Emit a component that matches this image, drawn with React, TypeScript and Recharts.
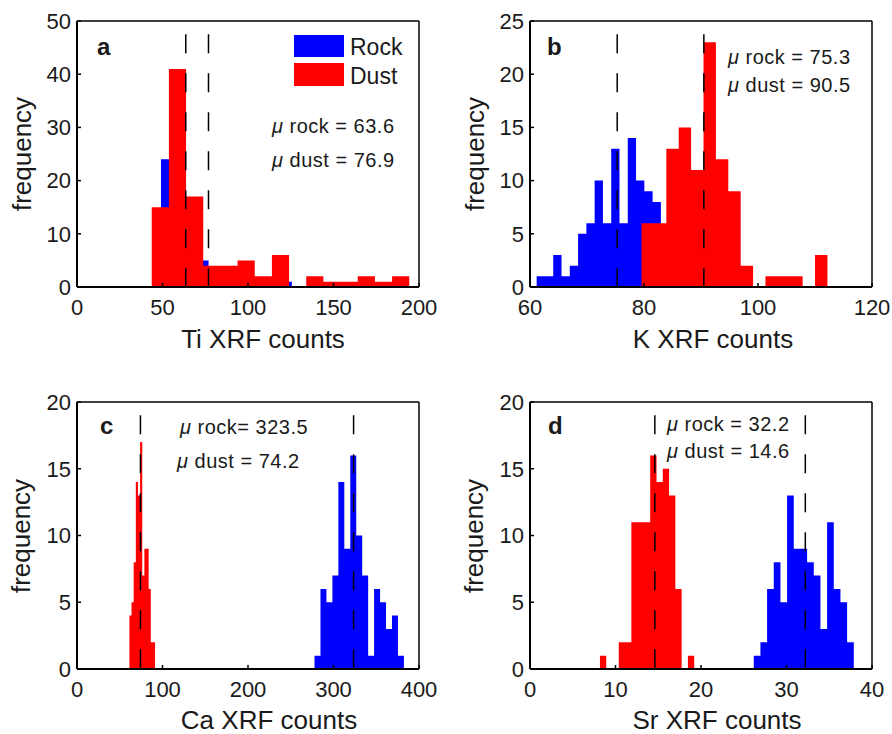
import { ComposedChart, Area, XAxis, YAxis, ReferenceLine } from 'recharts'

const FONT = '"Liberation Sans", Arial, Helvetica, sans-serif'
const BLUE = '#0000ff'
const RED = '#ff0000'
const INK = '#1a1a1a'

// a: Ti
const tiRockStart = 49.1
const tiRockWidth = 6.96
const tiRockCounts = [24, 30, 12, 5, 3, 2, 2, 1, 1, 0, 1]
const tiDustStart = 43.7
const tiDustWidth = 10.04
const tiDustCounts = [15, 41, 17, 4, 4, 5, 2, 6, 0, 2, 1, 1, 2, 1, 2]
const tiRockMean = 63.6
const tiDustMean = 76.9
const tiXTicks = [0, 50, 100, 150, 200]
const tiYTicks = [0, 10, 20, 30, 40, 50]

// b: K
const kRockStart = 61.17
const kRockWidth = 1.453
const kRockCounts = [1, 1, 3, 1, 2, 5, 6, 10, 6, 13, 6, 14, 10, 9, 8]
const kDustStart = 79.57
const kDustWidth = 2.174
const kDustCounts = [6, 6, 13, 15, 11, 23, 12, 9, 2, 0, 1, 1, 1, 0, 3]
const kRockMean = 75.3
const kDustMean = 90.5
const kXTicks = [60, 80, 100, 120]
const kYTicks = [0, 5, 10, 15, 20, 25]

// c: Ca
const caRockStart = 277.8
const caRockWidth = 6.97
const caRockCounts = [1, 6, 5, 7, 14, 9, 16, 10, 7, 1, 6, 5, 3, 4, 1]
const caDustStart = 61.3
const caDustWidth = 2.5
const caDustCounts = [4, 5, 8, 14, 13, 17, 7, 9, 9, 6, 2, 2]
const caRockMean = 323.5
const caDustMean = 74.2
const caXTicks = [0, 100, 200, 300, 400]
const caYTicks = [0, 5, 10, 15, 20]

// d: Sr
const srRockStart = 26.17
const srRockWidth = 0.78
const srRockCounts = [1, 2, 6, 8, 5, 13, 9, 9, 8, 7, 3, 11, 6, 5, 2]
const srDustStart = 8.18
const srDustWidth = 0.735
const srDustCounts = [1, 0, 0, 2, 2, 11, 11, 11, 16, 14, 15, 13, 6, 0, 1]
const srRockMean = 32.2
const srDustMean = 14.6
const srXTicks = [0, 10, 20, 30, 40]
const srYTicks = [0, 5, 10, 15, 20]

function countAt(start: number, width: number, counts: number[], x: number) {
  const i = Math.floor((x - start) / width + 1e-6)
  return i >= 0 && i < counts.length ? counts[i] : 0
}

function edgesOf(start: number, width: number, counts: number[]) {
  return [...counts.map((_, i) => start + i * width), start + counts.length * width]
}

// one row per bin edge of either histogram, drawn as stepAfter areas
function histRows(
  rStart: number, rWidth: number, rCounts: number[],
  dStart: number, dWidth: number, dCounts: number[],
) {
  const xs = [...edgesOf(rStart, rWidth, rCounts), ...edgesOf(dStart, dWidth, dCounts)].sort((a, b) => a - b)
  const uniq = xs.filter((x, i) => i === 0 || x - xs[i - 1] > 1e-9)
  return uniq.map((x) => ({
    x,
    rock: countAt(rStart, rWidth, rCounts, x),
    dust: countAt(dStart, dWidth, dCounts, x),
  }))
}

interface PanelProps {
  left: number
  top: number
  margin: { top: number; right: number; bottom: number; left: number }
  rows: { x: number; rock: number; dust: number }[]
  xTicks: number[]
  yTicks: number[]
  rockMean: number
  dustMean: number
}

function Panel({ left, top, margin, rows, xTicks, yTicks, rockMean, dustMean }: PanelProps) {
  const xDomain = [xTicks[0], xTicks[xTicks.length - 1]]
  const yDomain = [yTicks[0], yTicks[yTicks.length - 1]]
  const lineTop = yDomain[1] * 0.95
  const dash = { stroke: '#000', strokeWidth: 1.5, strokeDasharray: '19 20' }
  return (
    <div style={{ position: 'absolute', left, top }}>
      <ComposedChart width={446} height={367} data={rows} margin={margin} style={{ fontFamily: FONT }}>
        <XAxis
          dataKey="x"
          type="number"
          domain={xDomain}
          ticks={xTicks}
          interval={0}
          allowDataOverflow
          height={61}
          tickSize={-4}
          tickMargin={16}
          axisLine={{ stroke: '#000', strokeWidth: 2 }}
          tickLine={{ stroke: '#000', strokeWidth: 1.5 }}
          tick={{ fontSize: 22, fill: INK, fontFamily: FONT }}
        />
        <XAxis
          xAxisId="top"
          orientation="top"
          dataKey="x"
          type="number"
          domain={xDomain}
          ticks={xTicks}
          interval={0}
          allowDataOverflow
          height={1}
          tickSize={-4}
          tick={false}
          axisLine={{ stroke: '#000', strokeWidth: 1.5 }}
          tickLine={{ stroke: '#000', strokeWidth: 1.5 }}
        />
        <YAxis
          type="number"
          domain={yDomain}
          ticks={yTicks}
          interval={0}
          allowDataOverflow
          width={60}
          tickSize={-4}
          tickMargin={10}
          axisLine={{ stroke: '#000', strokeWidth: 2 }}
          tickLine={{ stroke: '#000', strokeWidth: 1.5 }}
          tick={{ fontSize: 22, fill: INK, fontFamily: FONT }}
        />
        <YAxis
          yAxisId="right"
          orientation="right"
          type="number"
          domain={yDomain}
          ticks={yTicks}
          interval={0}
          allowDataOverflow
          width={1}
          tickSize={-4}
          tick={false}
          axisLine={{ stroke: '#000', strokeWidth: 1.5 }}
          tickLine={{ stroke: '#000', strokeWidth: 1.5 }}
        />
        <Area
          type="stepAfter"
          dataKey="rock"
          fill={BLUE}
          fillOpacity={1}
          stroke="none"
          baseValue={0}
          dot={false}
          activeDot={false}
          isAnimationActive={false}
        />
        <Area
          type="stepAfter"
          dataKey="dust"
          fill={RED}
          fillOpacity={1}
          stroke="none"
          baseValue={0}
          dot={false}
          activeDot={false}
          isAnimationActive={false}
        />
        <ReferenceLine segment={[{ x: rockMean, y: lineTop }, { x: rockMean, y: 0 }]} {...dash} />
        <ReferenceLine segment={[{ x: dustMean, y: lineTop }, { x: dustMean, y: 0 }]} {...dash} />
      </ComposedChart>
    </div>
  )
}

function Mu({ x, y, label, value }: { x: number; y: number; label: string; value: string }) {
  return (
    <text x={x} y={y} fontSize={20} letterSpacing={0.5}>
      <tspan fontStyle="italic">μ</tspan> {label}{value}
    </text>
  )
}

export default function App() {
  const topL = { top: 20, right: 26, bottom: 19, left: 17 }
  const topR = { top: 20, right: 19, bottom: 19, left: 24 }
  const botL = { top: 34, right: 26, bottom: 4, left: 17 }
  const botR = { top: 34, right: 19, bottom: 4, left: 24 }

  return (
    <div style={{ position: 'absolute', left: 0, top: 0, width: 892, height: 734, background: '#fff' }}>
      <Panel
        left={0}
        top={0}
        margin={topL}
        rows={histRows(tiRockStart, tiRockWidth, tiRockCounts, tiDustStart, tiDustWidth, tiDustCounts)}
        xTicks={tiXTicks}
        yTicks={tiYTicks}
        rockMean={tiRockMean}
        dustMean={tiDustMean}
      />
      <Panel
        left={446}
        top={0}
        margin={topR}
        rows={histRows(kRockStart, kRockWidth, kRockCounts, kDustStart, kDustWidth, kDustCounts)}
        xTicks={kXTicks}
        yTicks={kYTicks}
        rockMean={kRockMean}
        dustMean={kDustMean}
      />
      <Panel
        left={0}
        top={367}
        margin={botL}
        rows={histRows(caRockStart, caRockWidth, caRockCounts, caDustStart, caDustWidth, caDustCounts)}
        xTicks={caXTicks}
        yTicks={caYTicks}
        rockMean={caRockMean}
        dustMean={caDustMean}
      />
      <Panel
        left={446}
        top={367}
        margin={botR}
        rows={histRows(srRockStart, srRockWidth, srRockCounts, srDustStart, srDustWidth, srDustCounts)}
        xTicks={srXTicks}
        yTicks={srYTicks}
        rockMean={srRockMean}
        dustMean={srDustMean}
      />

      <svg
        width={892}
        height={734}
        style={{ position: 'absolute', left: 0, top: 0, pointerEvents: 'none' }}
        fontFamily={FONT}
        fill={INK}
      >
        {/* panel letters */}
        <text x={97} y={55} fontSize={24} fontWeight="bold">a</text>
        <text x={547} y={55} fontSize={24} fontWeight="bold">b</text>
        <text x={100} y={434} fontSize={24} fontWeight="bold">c</text>
        <text x={548} y={434} fontSize={24} fontWeight="bold">d</text>

        {/* legend */}
        <rect x={294} y={35} width={50} height={22} fill={BLUE} />
        <rect x={294} y={63} width={50} height={23} fill={RED} />
        <text x={350} y={55} fontSize={23}>Rock</text>
        <text x={350} y={84} fontSize={23}>Dust</text>

        {/* means */}
        <Mu x={272} y={133} label="rock = " value={String(tiRockMean)} />
        <Mu x={272} y={167} label="dust = " value={String(tiDustMean)} />
        <Mu x={728} y={64} label="rock = " value={String(kRockMean)} />
        <Mu x={728} y={92} label="dust = " value={String(kDustMean)} />
        <Mu x={180} y={434} label="rock= " value={String(caRockMean)} />
        <Mu x={177} y={468} label="dust = " value={String(caDustMean)} />
        <Mu x={667} y={431} label="rock = " value={String(srRockMean)} />
        <Mu x={667} y={458} label="dust = " value={String(srDustMean)} />

        {/* axis titles */}
        <text x={263} y={348} fontSize={26} textAnchor="middle">Ti XRF counts</text>
        <text x={713} y={348} fontSize={26} textAnchor="middle">K XRF counts</text>
        <text x={269} y={729} fontSize={26} textAnchor="middle">Ca XRF counts</text>
        <text x={717} y={729} fontSize={26} textAnchor="middle">Sr XRF counts</text>
        <text transform="translate(31,154) rotate(-90)" fontSize={26} textAnchor="middle">frequency</text>
        <text transform="translate(484,154) rotate(-90)" fontSize={26} textAnchor="middle">frequency</text>
        <text transform="translate(30,536) rotate(-90)" fontSize={26} textAnchor="middle">frequency</text>
        <text transform="translate(483,536) rotate(-90)" fontSize={26} textAnchor="middle">frequency</text>
      </svg>
    </div>
  )
}
